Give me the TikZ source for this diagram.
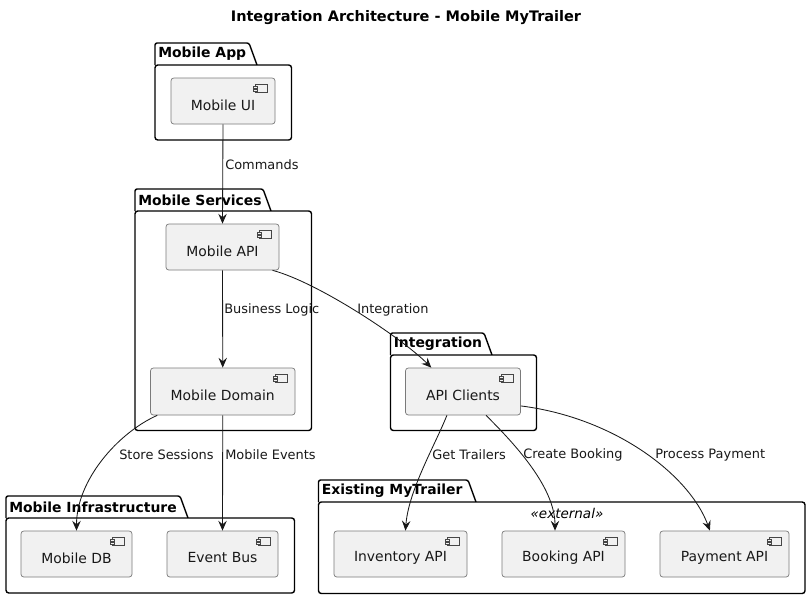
\documentclass[tikz,border=0pt]{standalone}
\usepackage{fontspec}
\setmainfont{DejaVu Sans}
\usetikzlibrary{positioning, arrows.meta, calc}
\definecolor{mtFill}{HTML}{F1F1F1}
\definecolor{mtLine}{HTML}{181818}
\definecolor{mtBox}{HTML}{7A7A7A}
% package: tab and body, top-left (#1,#2), bottom-right (#3,#4), tab end #5, title #6
\newcommand{\mtpkg}[6]{%
  \draw[pkgline, rounded corners=1.5pt] (#1,#2+22) -- (#1,#2) -- (#5,#2) -- (#5+8,#2+22);
  \draw[pkgline, rounded corners=2pt] (#1,#2+22) rectangle (#3,#4);
  \node[pkgtitle, anchor=west] at (#1+3,#2+11) {#6};
}
% component: name, corners (#2,#3) (#4,#5), text
\newcommand{\mtcomp}[6]{%
  \node[comp, minimum width={(#4-#2)*0.025cm}, minimum height={(#5-#3)*0.025cm}]
        (#1) at ({(#2+#4)/2},{(#3+#5)/2}) {};
  \node[comptext] (#1t) at ($(#1.center)+(0,4)$) {#6};
  \draw[compicon] ($(#1.north east)+(-20,7)$) rectangle ($(#1.north east)+(-8,15)$);
  \draw[compicon] ($(#1.north east)+(-22,8.5)$) rectangle ($(#1.north east)+(-18,10.5)$);
  \draw[compicon] ($(#1.north east)+(-22,11.5)$) rectangle ($(#1.north east)+(-18,13.5)$);
}

\begin{document}
\begin{tikzpicture}[x=0.025cm, y=-0.025cm,
    pkgline/.style={draw=black, line width=1pt, fill=white},
    pkgtitle/.style={inner sep=0pt, font=\fontsize{9.9}{12}\selectfont\bfseries},
    comp/.style={draw=mtBox, fill=mtFill, line width=0.5pt, rounded corners=2pt, inner sep=0pt},
    comptext/.style={inner sep=0pt, font=\fontsize{9.9}{12}\selectfont, text=mtLine},
    compicon/.style={draw=mtLine!80, fill=mtFill, line width=0.35pt},
    edge/.style={draw=mtLine, line width=0.6pt, -{Stealth[length=7pt, width=6pt, inset=2.5pt]}},
    elabel/.style={inner sep=0pt, anchor=west, font=\fontsize{9.2}{11}\selectfont, text=mtLine}]
    \useasboundingbox (0,0) rectangle (811,599);
    \node[font=\fontsize{10.3}{12}\selectfont\bfseries] (title) at (406,18) {Integration Architecture - Mobile MyTrailer};

    % packages
    \mtpkg{155}{43}{291.5}{140}{249}{Mobile App}
    \mtpkg{135}{189}{311.5}{430.5}{263}{Mobile Services}
    \mtpkg{390.5}{333}{536.5}{430.5}{484}{Integration}
    \mtpkg{6}{496}{294.5}{593}{180}{Mobile Infrastructure}
    \mtpkg{318.5}{480}{805}{593.5}{468}{Existing MyTrailer}
    \node[font=\fontsize{9.6}{11}\selectfont\itshape, inner sep=0pt] (ext) at (567,513) {«external»};

    % components
    \mtcomp{mui}{171}{78}{275}{124}{Mobile UI}
    \mtcomp{mapi}{166}{224}{279}{270}{Mobile API}
    \mtcomp{mdom}{150.5}{368}{295}{415}{Mobile Domain}
    \mtcomp{apic}{405.5}{368}{520.5}{415}{API Clients}
    \mtcomp{mdb}{21}{531}{132}{577}{Mobile DB}
    \mtcomp{ebus}{167}{531}{278}{577}{Event Bus}
    \mtcomp{inv}{334}{531}{467}{577}{Inventory API}
    \mtcomp{book}{502}{531}{625}{577}{Booking API}
    \mtcomp{pay}{660}{531}{789}{577}{Payment API}

    % connectors
    \draw[edge] (mui.south) -- (mapi.north);
    \draw[edge] (mapi.south) -- (mdom.north);
    \draw[edge] (mapi.-25) .. controls +(45,12) and +(-30,-30) .. (apic.143);
    \draw[edge] (mdom.-160) .. controls +(-40,18) and +(0,-50) .. (mdb.north);
    \draw[edge] (mdom.south) -- (ebus.north);
    \draw[edge] (apic.-124) .. controls +(-12,30) and +(3,-40) .. (inv.78);
    \draw[edge] (apic.-46) .. controls +(25,25) and +(0,-45) .. (book.110);
    \draw[edge] (apic.-14) .. controls +(95,12) and +(-20,-55) .. (pay.122);

    % connector labels
    \node[elabel] (lcmd) at (225,165) {Commands};
    \node[elabel] (lbiz) at (224,310) {Business Logic};
    \node[elabel] (lint) at (357,310) {Integration};
    \node[elabel] (lses) at (119,455) {Store Sessions};
    \node[elabel] (levt) at (225,455) {Mobile Events};
    \node[elabel] (ltrl) at (432,455) {Get Trailers};
    \node[elabel] (lbok) at (523,455) {Create Booking};
    \node[elabel] (lpay) at (655,455) {Process Payment};
\end{tikzpicture}
\end{document}
